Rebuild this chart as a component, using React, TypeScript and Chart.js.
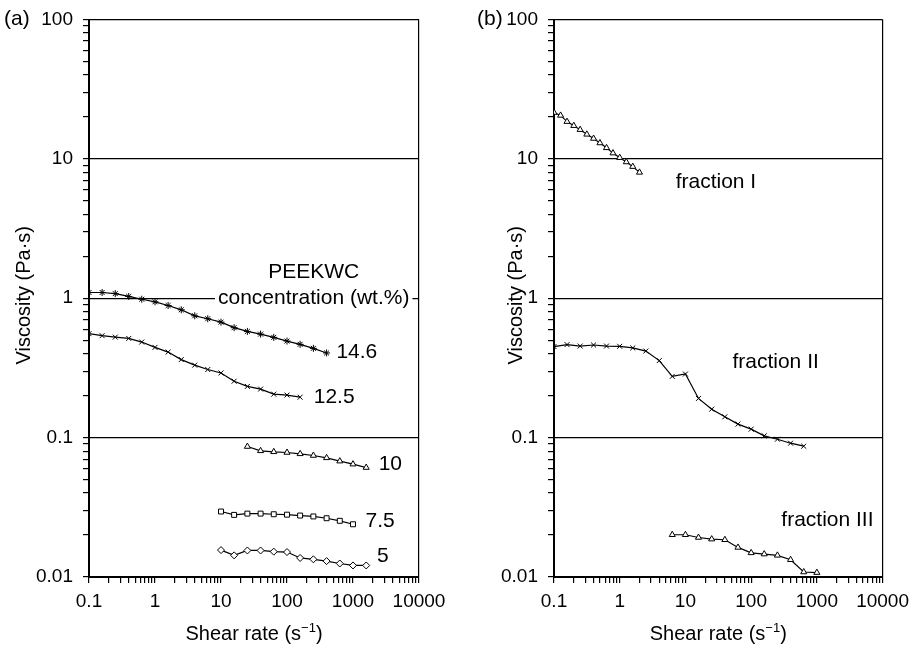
import React, { useEffect, useRef } from "react";
import { Chart, registerables } from "chart.js";
Chart.register(...registerables);

// ---------- Data: panel (a) PEEKWC concentration series ----------
const rateA146 = [0.1, 0.158, 0.25, 0.4, 0.63, 1, 1.58, 2.5, 4, 6.3, 10, 15.8, 25.1, 39.8, 63, 100, 158, 251, 398];
const viscA146 = [1.1, 1.1, 1.08, 1.03, 0.984, 0.943, 0.887, 0.826, 0.748, 0.713, 0.674, 0.615, 0.578, 0.553, 0.524, 0.493, 0.467, 0.437, 0.405];
const rateA125 = [0.1, 0.158, 0.25, 0.4, 0.63, 1, 1.58, 2.5, 4, 6.3, 10, 15.8, 25.1, 39.8, 63, 100, 158];
const viscA125 = [0.557, 0.539, 0.526, 0.515, 0.485, 0.444, 0.411, 0.363, 0.331, 0.308, 0.291, 0.254, 0.233, 0.223, 0.205, 0.202, 0.195];
const rateA10 = [25.1, 39.8, 63, 100, 158, 251, 398, 631, 1000, 1585];
const viscA10 = [0.0863, 0.0804, 0.0791, 0.0782, 0.0765, 0.0744, 0.0716, 0.0678, 0.0645, 0.061];
const rateA75 = [10, 15.8, 25.1, 39.8, 63, 100, 158, 251, 398, 631, 1000];
const viscA75 = [0.0295, 0.0279, 0.0285, 0.0285, 0.0282, 0.028, 0.0276, 0.0272, 0.0264, 0.0253, 0.0239];
const rateA5 = [10, 15.8, 25.1, 39.8, 63, 100, 158, 251, 398, 631, 1000, 1585];
const viscA5 = [0.0156, 0.0143, 0.0155, 0.0155, 0.0152, 0.0151, 0.0137, 0.0134, 0.013, 0.0125, 0.0121, 0.0121];

// ---------- Data: panel (b) fractions ----------
const rateB1 = [0.1, 0.126, 0.158, 0.2, 0.25, 0.316, 0.4, 0.5, 0.63, 0.79, 1.0, 1.26, 1.58, 2.0];
const viscB1 = [21.5, 20.5, 18.5, 17.3, 16.2, 15, 14, 13, 12, 11, 10.2, 9.5, 8.8, 8.0];
const rateB2 = [0.1, 0.158, 0.25, 0.4, 0.63, 1, 1.58, 2.5, 4, 6.3, 10, 15.8, 25.1, 39.8, 63, 100, 158, 251, 398, 631];
const viscB2 = [0.45, 0.465, 0.454, 0.462, 0.454, 0.452, 0.44, 0.418, 0.357, 0.275, 0.286, 0.191, 0.16, 0.141, 0.125, 0.115, 0.103, 0.0974, 0.0912, 0.0868];
const rateB3 = [6.3, 10, 15.8, 25.1, 39.8, 63, 100, 158, 251, 398, 631, 1000];
const viscB3 = [0.0201, 0.0201, 0.0192, 0.0187, 0.0185, 0.0163, 0.0149, 0.0146, 0.0143, 0.0133, 0.01086, 0.01075];

// ---------- Tick labels & texts ----------
const xTickLabels = ["0.1", "1", "10", "100", "1000", "10000"];
const yTickLabels = ["0.01", "0.1", "1", "10", "100"];
const xTitleMain = "Shear rate (s";
const xTitleSup = "\u22121";
const yTitle = "Viscosity (Pa\u00b7s)";

const labelsA = [
  { text: "14.6", x: 560, y: 0.409, align: "left" },
  { text: "12.5", x: 254, y: 0.195, align: "left" },
  { text: "10", x: 2450, y: 0.0649, align: "left" },
  { text: "7.5", x: 1550, y: 0.025, align: "left" },
  { text: "5", x: 2310, y: 0.01406, align: "left" },
  { text: "PEEKWC", x: 254, y: 1.55, align: "center" },
  { text: "concentration (wt.%)", x: 254, y: 1.0, align: "center", bg: true },
];
const labelsB = [
  { text: "fraction I", x: 7.1, y: 6.8, align: "left" },
  { text: "fraction II", x: 51.9, y: 0.349, align: "left" },
  { text: "fraction III", x: 288, y: 0.0254, align: "left" },
];

const FONT = "'Liberation Sans', Arial, Helvetica, sans-serif";

function pts(xs: number[], ys: number[]) {
  return xs.map((x, i) => ({ x, y: ys[i] }));
}

function isPow10(v: number) {
  const l = Math.log10(v);
  return Math.abs(l - Math.round(l)) < 1e-6;
}

function logTicks(minExp: number, maxExp: number) {
  const out: { value: number }[] = [];
  for (let e = minExp; e < maxExp; e++) {
    for (let m = 1; m < 10; m++) out.push({ value: m * Math.pow(10, e) });
  }
  out.push({ value: Math.pow(10, maxExp) });
  return out;
}

function ds(data: any, style: string, fill: string) {
  return {
    data,
    borderColor: "#000",
    borderWidth: 1.2,
    pointStyle: style,
    pointRadius: 3.5,
    pointBorderWidth: 1,
    pointBorderColor: "#000",
    pointBackgroundColor: fill,
    fill: false,
    tension: 0,
  };
}

function makeConfig(p: any) {
  const overlay = {
    id: "overlay" + p.letter,
    afterDatasetsDraw(chart: any) {
      const ctx = chart.ctx;
      const xs = chart.scales.x;
      const ys = chart.scales.y;
      ctx.save();
      ctx.font = `21px ${FONT}`;
      ctx.textBaseline = "middle";
      for (const l of p.labels) {
        const px = xs.getPixelForValue(l.x);
        const py = ys.getPixelForValue(l.y);
        ctx.textAlign = l.align;
        if (l.bg) {
          const w = ctx.measureText(l.text).width;
          const left = l.align === "center" ? px - w / 2 : px;
          ctx.fillStyle = "#fff";
          ctx.fillRect(left - 3, py - 11, w + 6, 22);
        }
        ctx.fillStyle = "#000";
        ctx.fillText(l.text, px, py);
      }
      ctx.restore();
    },
    afterDraw(chart: any) {
      const ctx = chart.ctx;
      const area = chart.chartArea;
      ctx.save();
      ctx.fillStyle = "#000";
      // panel letter
      ctx.font = `21px ${FONT}`;
      ctx.textAlign = "left";
      ctx.textBaseline = "middle";
      ctx.fillText(p.letter, p.letterX, area.top);
      // y title
      ctx.save();
      ctx.font = `20px ${FONT}`;
      ctx.translate(p.yTitleX, (area.top + area.bottom) / 2 - 3);
      ctx.rotate(-Math.PI / 2);
      ctx.textAlign = "center";
      ctx.textBaseline = "middle";
      ctx.fillText(yTitle, 0, 0);
      ctx.restore();
      // x title with superscript
      const cx = (area.left + area.right) / 2;
      const base = 640;
      ctx.font = `20px ${FONT}`;
      const w1 = ctx.measureText(xTitleMain).width;
      ctx.font = `13px ${FONT}`;
      const w2 = ctx.measureText(xTitleSup).width;
      ctx.font = `20px ${FONT}`;
      const w3 = ctx.measureText(")").width;
      let x0 = cx - (w1 + w2 + w3) / 2;
      ctx.textBaseline = "alphabetic";
      ctx.textAlign = "left";
      ctx.fillText(xTitleMain, x0, base);
      x0 += w1;
      ctx.font = `13px ${FONT}`;
      ctx.fillText(xTitleSup, x0, base - 8);
      x0 += w2;
      ctx.font = `20px ${FONT}`;
      ctx.fillText(")", x0, base);
      ctx.restore();
    },
  };

  return {
    type: "line",
    data: { datasets: p.datasets },
    options: {
      animation: false,
      responsive: false,
      devicePixelRatio: 1,
      layout: { padding: { top: 17, right: p.padRight, left: 0, bottom: 0 } },
      plugins: { legend: { display: false }, tooltip: { enabled: false } },
      scales: {
        x: {
          type: "logarithmic",
          min: 0.1,
          max: 10000,
          afterFit: (s: any) => {
            s.height = 72;
          },
          afterBuildTicks: (s: any) => {
            s.ticks = logTicks(-1, 4);
          },
          ticks: {
            autoSkip: false,
            maxRotation: 0,
            minRotation: 0,
            padding: 9,
            color: "#000",
            font: { size: 19, family: FONT, lineHeight: 1 },
            callback: (v: any) => (isPow10(v) ? xTickLabels[Math.round(Math.log10(v)) + 1] : ""),
          },
          grid: {
            display: true,
            drawOnChartArea: true,
            lineWidth: 1.2,
            color: (c: any) => (c.tick && Math.abs(c.tick.value - 10000) < 1e-6 ? "#000" : "rgba(0,0,0,0)"),
            tickColor: "#000",
            tickLength: 6,
          },
          border: { display: true, color: "#000", width: 2 },
        },
        y: {
          type: "logarithmic",
          min: 0.01,
          max: 100,
          afterFit: (s: any) => {
            s.width = p.yAxisWidth;
          },
          afterBuildTicks: (s: any) => {
            s.ticks = logTicks(-2, 2);
          },
          ticks: {
            autoSkip: false,
            padding: 10,
            color: "#000",
            font: { size: 19, family: FONT, lineHeight: 1 },
            callback: (v: any) => (isPow10(v) ? yTickLabels[Math.round(Math.log10(v)) + 2] : ""),
          },
          grid: {
            display: true,
            drawOnChartArea: true,
            lineWidth: 1.2,
            color: (c: any) => (c.tick && isPow10(c.tick.value) && c.tick.value > 0.05 ? "#000" : "rgba(0,0,0,0)"),
            tickColor: "#000",
            tickLength: 6,
          },
          border: { display: true, color: "#000", width: 2 },
        },
      },
    },
    plugins: [overlay],
  };
}

const panelA = {
  letter: "(a)",
  letterX: 4,
  yTitleX: 24,
  yAxisWidth: 89,
  padRight: 40,
  labels: labelsA,
  datasets: [
    ds(pts(rateA146, viscA146), "star", "#fff"),
    ds(pts(rateA125, viscA125), "crossRot", "#fff"),
    ds(pts(rateA10, viscA10), "triangle", "#fff"),
    ds(pts(rateA75, viscA75), "rect", "#fff"),
    ds(pts(rateA5, viscA5), "rectRot", "#fff"),
  ],
};

const panelB = {
  letter: "(b)",
  letterX: 18,
  yTitleX: 57,
  yAxisWidth: 95,
  padRight: 32,
  labels: labelsB,
  datasets: [
    ds(pts(rateB1, viscB1), "triangle", "#fff"),
    ds(pts(rateB2, viscB2), "crossRot", "#fff"),
    ds(pts(rateB3, viscB3), "triangle", "#fff"),
  ],
};

function Panel({ panel, left }: { panel: any; left: number }) {
  const ref = useRef<HTMLCanvasElement | null>(null);
  useEffect(() => {
    if (!ref.current) return;
    const chart = new Chart(ref.current, makeConfig(panel) as any);
    return () => chart.destroy();
  }, [panel]);
  return (
    <canvas
      ref={ref}
      width={459}
      height={649}
      style={{ position: "absolute", left, top: 0, width: 459, height: 649 }}
    />
  );
}

export default function App() {
  return (
    <div style={{ position: "absolute", left: 0, top: 0, width: 918, height: 649, background: "#fff" }}>
      <Panel panel={panelA} left={0} />
      <Panel panel={panelB} left={459} />
    </div>
  );
}
